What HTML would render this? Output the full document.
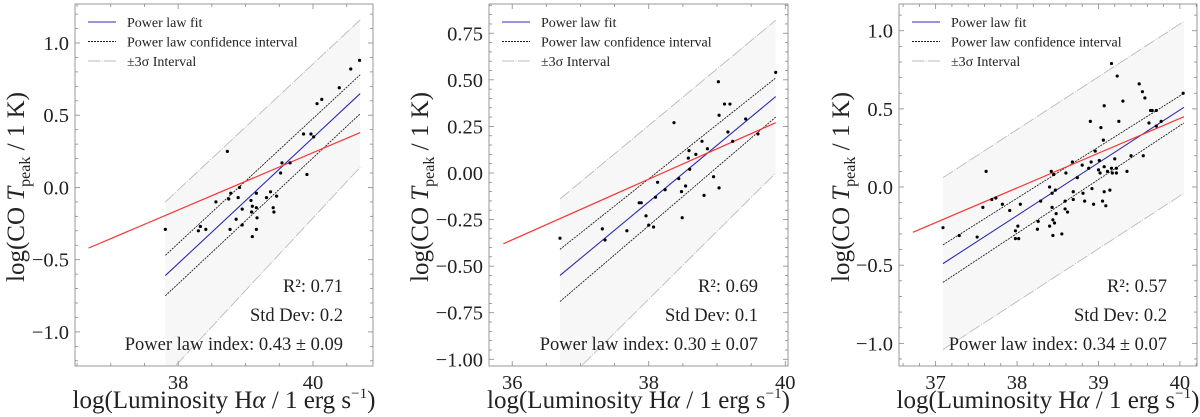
<!DOCTYPE html>
<html><head><meta charset="utf-8"><style>
html,body{margin:0;padding:0;background:#fff;}
svg{display:block;font-family:"Liberation Serif",serif;}
</style></head><body>
<svg id="fig" width="1200" height="417" viewBox="0 0 1200 417" xmlns="http://www.w3.org/2000/svg"></svg>
<script>
// ---------- Panel 1 data ----------
const p1X=[37.81,38.30,38.33,38.41,38.56,38.73,38.75,38.78,38.77,38.86,38.89,38.91,38.95,38.95,39.08,39.09,39.10,39.10,39.16,39.16,39.17,39.16,39.31,39.37,39.41,39.42,39.46,39.52,39.54,39.66,39.86,39.91,39.97,40.01,40.06,40.13,40.39,40.56,40.69];
const p1Y=[-0.29,-0.30,-0.27,-0.29,-0.10,0.25,-0.08,-0.04,-0.29,-0.22,-0.07,0.00,-0.15,-0.26,-0.09,-0.17,-0.13,-0.34,-0.04,-0.14,-0.21,-0.29,-0.07,-0.03,-0.14,-0.17,-0.06,0.10,0.17,0.17,0.37,0.09,0.37,0.35,0.58,0.61,0.69,0.82,0.88];
const p1FitX=[37.81,40.70], p1FitY=[-0.61,0.65];
const p1CiUpY=[-0.47,0.78], p1CiLoY=[-0.75,0.51];
const p1SigUpY=[-0.10,1.16], p1SigLoY=[-1.31,0.14];
const p1RedX=[36.67,40.70], p1RedY=[-0.42,0.38];
const p1XTicks=[38,40], p1YTicks=[-1.0,-0.5,0.0,0.5,1.0];
const p1YTickLabels=["\u22121.0","\u22120.5","0.0","0.5","1.0"];
const p1Stats=["R\u00b2: 0.71","Std Dev: 0.2","Power law index: 0.43 \u00b1 0.09"];
// ---------- Panel 2 data ----------
const p2X=[36.70,37.32,37.36,37.68,37.86,37.89,37.96,38.00,38.07,38.10,38.13,38.24,38.37,38.44,38.48,38.49,38.54,38.58,38.59,38.60,38.69,38.78,38.81,38.86,38.95,39.02,39.03,39.03,39.11,39.19,39.16,39.23,39.42,39.60,39.86];
const p2Y=[-0.35,-0.30,-0.36,-0.31,-0.16,-0.16,-0.23,-0.28,-0.29,-0.13,-0.05,-0.09,0.27,-0.03,-0.10,-0.24,-0.07,0.08,0.12,0.02,0.10,0.17,-0.12,0.13,-0.02,0.49,0.31,-0.08,0.37,0.37,0.22,0.17,0.29,0.21,0.54];
const p2FitX=[36.70,39.86], p2FitY=[-0.55,0.41];
const p2CiUpY=[-0.41,0.51], p2CiLoY=[-0.69,0.30];
const p2SigUpY=[-0.14,0.82], p2SigLoY=[-1.15,0.00];
const p2RedX=[35.87,39.86], p2RedY=[-0.38,0.27];
const p2XTicks=[36,38,40], p2YTicks=[-1.0,-0.75,-0.5,-0.25,0,0.25,0.5,0.75];
const p2YTickLabels=["\u22121.00","\u22120.75","\u22120.50","\u22120.25","0.00","0.25","0.50","0.75"];
const p2Stats=["R\u00b2: 0.69","Std Dev: 0.1","Power law index: 0.30 \u00b1 0.07"];
// ---------- Panel 3 data ----------
const p3X=[37.09,37.29,37.51,37.58,37.62,37.69,37.74,37.82,37.91,37.98,37.98,38.01,38.02,38.04,38.25,38.26,38.29,38.40,38.40,38.42,38.43,38.43,38.44,38.44,38.45,38.46,38.47,38.48,38.55,38.59,38.59,38.60,38.62,38.68,38.69,38.69,38.74,38.80,38.81,38.83,38.88,38.90,38.91,38.92,38.94,38.96,39.00,39.01,39.02,39.03,39.05,39.06,39.07,39.07,39.07,39.09,39.11,39.14,39.16,39.16,39.17,39.20,39.22,39.22,39.23,39.25,39.30,39.35,39.40,39.50,39.54,39.57,39.55,39.62,39.64,39.66,39.71,39.71,39.77,40.04];
const p3Y=[-0.26,-0.31,-0.32,-0.13,0.10,-0.08,-0.07,-0.11,-0.15,-0.28,-0.33,-0.25,-0.33,-0.11,-0.27,-0.22,-0.09,0.00,-0.25,0.10,-0.04,-0.13,-0.21,-0.31,0.08,-0.23,-0.02,-0.17,-0.30,-0.09,-0.14,0.09,-0.16,0.16,-0.03,-0.08,0.06,0.14,-0.04,-0.09,0.12,0.42,0.16,-0.01,-0.11,0.23,0.11,0.17,0.09,0.38,-0.09,0.30,0.13,-0.03,0.52,-0.12,0.10,-0.02,0.79,0.12,0.09,0.18,0.12,0.09,0.71,0.42,0.55,0.10,0.20,0.66,0.61,0.57,0.20,0.41,0.49,0.49,0.49,0.39,0.42,0.60];
const p3FitX=[37.09,40.05], p3FitY=[-0.49,0.51];
const p3CiUpY=[-0.37,0.60], p3CiLoY=[-0.61,0.41];
const p3SigUpY=[0.06,1.06], p3SigLoY=[-1.04,-0.04];
const p3RedX=[36.72,40.05], p3RedY=[-0.29,0.45];
const p3XTicks=[37,38,39,40], p3YTicks=[-1.0,-0.5,0.0,0.5,1.0];
const p3YTickLabels=["\u22121.0","\u22120.5","0.0","0.5","1.0"];
const p3Stats=["R\u00b2: 0.57","Std Dev: 0.2","Power law index: 0.34 \u00b1 0.07"];

const NS="http://www.w3.org/2000/svg";
const fig=document.getElementById('fig');
function mk(tag,attrs,parent){const e=document.createElementNS(NS,tag);for(const k in attrs)e.setAttribute(k,attrs[k]);(parent||fig).appendChild(e);return e;}

const panels=[
 {id:1,L:75,R:373,T:4,B:366,xmin:36.47,xmax:40.89,ymin:-1.236,ymax:1.27,X:p1X,Y:p1Y,fx:p1FitX,fy:p1FitY,cu:p1CiUpY,cl:p1CiLoY,su:p1SigUpY,sl:p1SigLoY,rx:p1RedX,ry:p1RedY,xt:p1XTicks,yt:p1YTicks,ytl:p1YTickLabels,st:p1Stats,xminor:0.5,yminor:0.1,ylabX:15},
 {id:2,L:489,R:788,T:4,B:366,xmin:35.66,xmax:40.04,ymin:-1.036,ymax:0.907,X:p2X,Y:p2Y,fx:p2FitX,fy:p2FitY,cu:p2CiUpY,cl:p2CiLoY,su:p2SigUpY,sl:p2SigLoY,rx:p2RedX,ry:p2RedY,xt:p2XTicks,yt:p2YTicks,ytl:p2YTickLabels,st:p2Stats,xminor:0.5,yminor:0.05,ylabX:419},
 {id:3,L:899,R:1197,T:4,B:366,xmin:36.55,xmax:40.21,ymin:-1.145,ymax:1.171,X:p3X,Y:p3Y,fx:p3FitX,fy:p3FitY,cu:p3CiUpY,cl:p3CiLoY,su:p3SigUpY,sl:p3SigLoY,rx:p3RedX,ry:p3RedY,xt:p3XTicks,yt:p3YTicks,ytl:p3YTickLabels,st:p3Stats,xminor:0.2,yminor:0.1,ylabX:840}
];

panels.forEach(p=>{
 const sx=v=>p.L+(v-p.xmin)/(p.xmax-p.xmin)*(p.R-p.L);
 const sy=v=>p.B-(v-p.ymin)/(p.ymax-p.ymin)*(p.B-p.T);
 const g=mk('g',{});
 
 
 const cid='clip'+p.id;
 const cp=mk('clipPath',{id:cid},g); mk('rect',{x:p.L,y:p.T,width:p.R-p.L,height:p.B-p.T},cp);
 const plot=mk('g',{'clip-path':'url(#'+cid+')'},g);
 const band=mk('polygon',{points:`${sx(p.fx[0])},${sy(p.su[0])} ${sx(p.fx[1])},${sy(p.su[1])} ${sx(p.fx[1])},${sy(p.sl[1])} ${sx(p.fx[0])},${sy(p.sl[0])}`,fill:'#f7f7f7'},plot);
 
 
 const line=(ys,xs,attrs,name)=>{const l=mk('line',Object.assign({x1:sx(xs[0]),y1:sy(ys[0]),x2:sx(xs[1]),y2:sy(ys[1])},attrs),plot);
  
  };
 const sig={stroke:'#bbb','stroke-width':0.9,'stroke-dasharray':'12,1.5,1,1.5'};
 const ci={stroke:'#222','stroke-width':0.9,'stroke-dasharray':'2,1'};
 line(p.su,p.fx,sig,'sigma-upper');
 line(p.sl,p.fx,sig,'sigma-lower');
 line(p.cu,p.fx,ci,'ci-upper');
 line(p.cl,p.fx,ci,'ci-lower');
 line(p.fy,p.fx,{stroke:'#2b2bb0','stroke-width':1.1},'power-law-fit');
 line(p.ry,p.rx,{stroke:'#ff3333','stroke-width':1.2},'red-fit-line');
 p.X.forEach((x,i)=>{const c=mk('circle',{cx:sx(x),cy:sy(p.Y[i]),r:1.6,fill:'#000'},plot);
  
  });
 const fr=mk('rect',{x:p.L,y:p.T,width:p.R-p.L,height:p.B-p.T,fill:'none',stroke:'#999','stroke-width':1},g);
 
 
 const tk={stroke:'#888','stroke-width':0.8};
 for(let v=Math.ceil(p.xmin/p.xminor)*p.xminor;v<=p.xmax;v+=p.xminor){const X=sx(v);const maj=p.xt.some(t=>Math.abs(t-v)<1e-6);const len=maj?5:3;
  mk('line',Object.assign({x1:X,y1:p.B,x2:X,y2:p.B-len},tk),g);mk('line',Object.assign({x1:X,y1:p.T,x2:X,y2:p.T+len},tk),g);}
 for(let v=Math.ceil(p.ymin/p.yminor)*p.yminor;v<=p.ymax;v+=p.yminor){const Y=sy(v);const maj=p.yt.some(t=>Math.abs(t-v)<1e-6);const len=maj?5:3;
  mk('line',Object.assign({x1:p.L,y1:Y,x2:p.L+len,y2:Y},tk),g);mk('line',Object.assign({x1:p.R,y1:Y,x2:p.R-len,y2:Y},tk),g);}
 p.xt.forEach(t=>{const e=mk('text',{x:sx(t),y:p.B+23,'text-anchor':'middle','font-size':20.5,fill:'#222'},g);e.textContent=t;
  
  });
 p.yt.forEach((t,i)=>{const e=mk('text',{x:p.L-6,y:sy(t)+7,'text-anchor':'end','font-size':20.5,fill:'#222'},g);e.textContent=p.ytl[i];
  
  });
 const lg=mk('g',{},g);
 
 
 const items=[['Power law fit',{stroke:'#2b2bb0','stroke-width':1.1}],['Power law confidence interval',ci],['\u00b13\u03c3 Interval',sig]];
 items.forEach((it,i)=>{const y=22+i*19.5;mk('line',Object.assign({x1:p.L+13,y1:y,x2:p.L+41,y2:y},it[1]),lg);
  const t=mk('text',{x:p.L+52,y:y+5,'font-size':14,fill:'#222'},lg);t.textContent=it[0];
  
  });
 p.st.forEach((s,i)=>{const t=mk('text',{x:p.R-30,y:292+i*29,'text-anchor':'end','font-size':18.5,fill:'#222'},g);t.textContent=s;
  
  });
 const xl=mk('text',{x:(p.L+p.R)/2,y:408,'text-anchor':'middle','font-size':25,fill:'#222'},g);
 xl.innerHTML='log(Luminosity H<tspan font-style="italic">\u03b1</tspan> / 1 erg s<tspan dy="-10" font-size="15">\u22121</tspan><tspan dy="10">)</tspan>';
 
 
 const cy=187;
 const yl=mk('text',{x:p.ylabX,y:cy,'text-anchor':'middle','font-size':25,fill:'#222',transform:`rotate(-90 ${p.ylabX} ${cy}) translate(0 9)`},g);
 yl.innerHTML='log(CO <tspan font-style="italic">T</tspan><tspan dy="6" font-size="16">peak</tspan><tspan dy="-6"> / 1 K)</tspan>';
 
 
});
</script>
</body></html>
